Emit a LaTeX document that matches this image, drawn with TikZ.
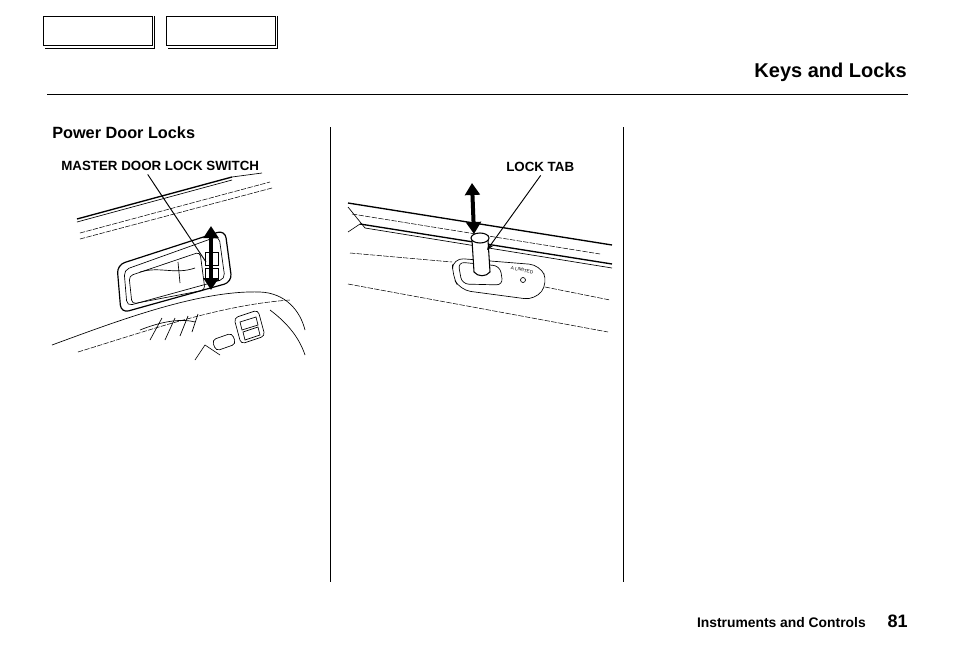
\documentclass[tikz,border=0pt]{standalone}
\usepackage{fontspec}
\setmainfont{Liberation Sans}
\usetikzlibrary{arrows.meta}
\begin{document}
\begin{tikzpicture}[x=0.75pt,y=-0.75pt,
  thin line/.style={line width=0.5pt},
  dash line/.style={line width=0.4pt,dash pattern=on 4pt off 1pt},
  bold arrow/.style={line width=3pt,{Triangle[length=9pt,width=11pt]}-{Triangle[length=9pt,width=11pt]}},
  lab/.style={font=\bfseries\fontsize{10}{11}\selectfont,inner sep=0pt},
  navbtn/.style={draw,line width=0.8pt,minimum width=82pt,minimum height=22pt,inner sep=0pt}]
\useasboundingbox (0,0) rectangle (954,650);
% nav buttons
\node[navbtn] (b1) at (98,31) {};
\draw[line width=0.8pt] (b1.north east) ++(1.5,0) |- ([xshift=1.5pt,yshift=-1.5pt]b1.south west);
\node[navbtn] (b2) at (221,31) {};
\draw[line width=0.8pt] (b2.north east) ++(1.5,0) |- ([xshift=1.5pt,yshift=-1.5pt]b2.south west);
% header
\node[anchor=base east,inner sep=0pt,font=\bfseries\fontsize{15}{18}\selectfont] (title) at (907,77) {Keys and Locks};
\draw[line width=0.5pt] (47,94) -- (908,94);
\node[anchor=base west,inner sep=0pt,font=\bfseries\fontsize{12.2}{14}\selectfont] (sec) at (52,138) {Power Door Locks};
\draw[line width=0.5pt] (330,127) -- (330,582);
\draw[line width=0.5pt] (623,127) -- (623,582);
% footer
\node[anchor=base east,inner sep=0pt,font=\bfseries\fontsize{10.4}{12}\selectfont] (foot) at (866,627) {Instruments and Controls};
\node[anchor=base east,inner sep=0pt,font=\bfseries\fontsize{13.5}{15}\selectfont] (pg) at (908,627) {81};

% ---------- left illustration ----------
\node[lab,anchor=base west] (msw) at (61,170) {MASTER DOOR LOCK SWITCH};
\draw[line width=1pt] (77,219) -- (232,177);
\draw[thin line] (77,222) -- (232,180);
\draw[dash line] (80,233) -- (270,182);
\draw[dash line] (80,239) -- (272,188);
\draw[thin line] (232,177) -- (262,173);
% bezel
\draw[line width=0.9pt,rounded corners=6pt] (117,265) -- (225,230) -- (232,282) -- (121,313) -- cycle;
\draw[thin line,rounded corners=4pt] (124,270) -- (219,236) -- (225,279) -- (127,306) -- cycle;
\draw[thin line,rounded corners=3pt] (129,276) -- (200,252) -- (205,290) -- (132,304) -- cycle;
\draw[thin line] (140,272) .. controls (160,266) and (175,275) .. (195,268);
\draw[thin line] (178,262) -- (180,283);
\draw[thin line] (205,252) rectangle (218,265);
\draw[thin line] (205,268) rectangle (218,280);
% arrow and leader
\coordinate (sw) at (206,262);
\draw[bold arrow] (211,226) -- (211,290);
\draw[line width=0.7pt] ([xshift=65pt,yshift=-3pt]msw.south west) -- (sw);
% armrest
\draw[thin line] (52,345) .. controls (120,320) and (200,290) .. (260,292) .. controls (285,293) and (300,310) .. (305,330);
\draw[dash line] (78,352) .. controls (150,330) and (220,305) .. (290,300);
\draw[thin line] (140,330) .. controls (160,322) and (180,318) .. (195,322);
\draw[thin line] (150,340) -- (162,318); \draw[thin line] (165,340) -- (175,318);
\draw[thin line] (180,336) -- (188,316); \draw[thin line] (192,332) -- (198,314);
\draw[thin line,rounded corners=3pt] (234,318) -- (258,310) -- (265,336) -- (241,344) -- cycle;
\draw[thin line] (240,322) -- (256,317) -- (258,325) -- (242,330) -- cycle;
\draw[thin line] (243,332) -- (258,327) -- (260,335) -- (245,340) -- cycle;
\draw[thin line,rounded corners=3pt] (212,340) -- (232,333) -- (236,344) -- (216,351) -- cycle;
\draw[thin line] (195,360) -- (205,345) -- (220,355);
\draw[thin line] (270,310) .. controls (290,325) and (300,340) .. (305,355);

% ---------- right illustration ----------
\node[lab,anchor=base west] (lt) at (506,171) {LOCK TAB};
\draw[line width=1pt] (348,203) -- (612,245);
\draw[thin line] (348,207) -- (365,228);
\draw[thin line] (365,228) -- (612,268);
\draw[line width=1pt] (360,224) -- (612,264);
\draw[thin line] (348,232) -- (360,224);
\draw[dash line] (352,214) -- (600,254);
\draw[dash line] (350,253) -- (452,262);
\draw[dash line] (348,284) -- (608,332);
\draw[dash line] (545,287) -- (610,300);
% bezel
\draw[thin line,rounded corners=8pt] (453,258) -- (540,265) -- (548,283) -- (535,300) -- (460,290) -- (452,275) -- cycle;
\draw[thin line,rounded corners=5pt] (458,262) -- (500,266) -- (503,285) -- (462,284) -- cycle;
\node[inner sep=0pt,font=\fontsize{3.5}{4}\selectfont,rotate=-12] (lbl) at (522,270) {A LIMITED};
\draw[thin line] (523,280) circle (2.5);
% tab
\draw[line width=0.8pt,fill=white] (472,240) -- (474,272) .. controls (478,277) and (486,277) .. (490,272) -- (488,240);
\draw[line width=0.8pt,fill=white] (480,238) ellipse (9 and 5);
\coordinate (tab) at (487,250);
\draw[bold arrow] (472,183) -- (474,234);
\draw[-{Stealth[length=5pt]},line width=0.7pt] ([xshift=26pt,yshift=-3pt]lt.south west) -- (tab);
\end{tikzpicture}
\end{document}
